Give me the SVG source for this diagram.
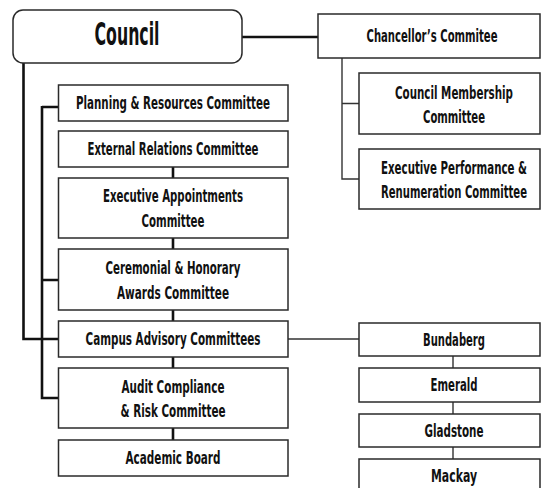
<svg xmlns="http://www.w3.org/2000/svg" width="541" height="488" viewBox="0 0 541 488">
<style>
rect{fill:#fff;stroke:#2a2a2a;stroke-width:1.5}
text{font-family:"Liberation Sans Narrow","DejaVu Sans Condensed","Liberation Sans",sans-serif;font-weight:bold;font-size:17.5px;fill:#111;text-anchor:middle}
.thick{stroke:#111;stroke-width:2.6;fill:none}
.thin{stroke:#333;stroke-width:1.4;fill:none}
</style>
<rect x="0" y="0" width="541" height="488" style="fill:#fff;stroke:none"/>
<g id="connectors">
<path class="thick" d="M23.5 63V339H58.5M42 107H58.5M42 106V398H58.5M42 280H58.5"/>
<path class="thick" d="M242 37H318"/>
<path class="thick" d="M173 167V178M173 238V249M173 310V321M173 357V368M173 428V440"/>
<path class="thin" d="M342 58V179H359M342 103.5H359"/>
<path class="thin" d="M288 339H359M453 356V368M453 402V414M453 447V459"/>
</g>
<g id="council"><rect x="13" y="10" width="229" height="53" rx="10"/><text x="127" y="45" style="font-size:32px" textLength="65" lengthAdjust="spacingAndGlyphs">Council</text></g>
<g id="chancellor"><rect x="318" y="14" width="222" height="44"/><text x="432" y="42" textLength="131" lengthAdjust="spacingAndGlyphs">Chancellor’s Commitee</text></g>
<g id="council-membership"><rect x="359" y="73" width="181" height="61"/><text x="454" y="98.5" textLength="118" lengthAdjust="spacingAndGlyphs">Council Membership</text><text x="454" y="123" textLength="62" lengthAdjust="spacingAndGlyphs">Committee</text></g>
<g id="exec-performance"><rect x="359" y="149" width="181" height="60"/><text x="454" y="173.5" textLength="146" lengthAdjust="spacingAndGlyphs">Executive Performance &amp;</text><text x="454" y="198" textLength="146" lengthAdjust="spacingAndGlyphs">Renumeration Committee</text></g>
<g id="planning"><rect x="58.5" y="85" width="229.5" height="36"/><text x="173" y="109" textLength="194" lengthAdjust="spacingAndGlyphs">Planning &amp; Resources Committee</text></g>
<g id="external"><rect x="58.5" y="131" width="229.5" height="36"/><text x="173" y="155" textLength="171" lengthAdjust="spacingAndGlyphs">External Relations Committee</text></g>
<g id="exec-appointments"><rect x="58.5" y="178" width="229.5" height="60"/><text x="173" y="202" textLength="140" lengthAdjust="spacingAndGlyphs">Executive Appointments</text><text x="173" y="227" textLength="63" lengthAdjust="spacingAndGlyphs">Committee</text></g>
<g id="ceremonial"><rect x="58.5" y="249" width="229.5" height="61"/><text x="173" y="274" textLength="135" lengthAdjust="spacingAndGlyphs">Ceremonial &amp; Honorary</text><text x="173" y="298.5" textLength="112" lengthAdjust="spacingAndGlyphs">Awards Committee</text></g>
<g id="campus"><rect x="58.5" y="321" width="229.5" height="36"/><text x="173" y="345" textLength="175" lengthAdjust="spacingAndGlyphs">Campus Advisory Committees</text></g>
<g id="audit"><rect x="58.5" y="368" width="229.5" height="60"/><text x="173" y="392.5" textLength="103" lengthAdjust="spacingAndGlyphs">Audit Compliance</text><text x="173" y="416.5" textLength="105" lengthAdjust="spacingAndGlyphs">&amp; Risk Committee</text></g>
<g id="academic"><rect x="58.5" y="440" width="229.5" height="36"/><text x="173" y="464" textLength="95" lengthAdjust="spacingAndGlyphs">Academic Board</text></g>
<g id="bundaberg"><rect x="359" y="323" width="181" height="33"/><text x="454" y="345.5" textLength="62" lengthAdjust="spacingAndGlyphs">Bundaberg</text></g>
<g id="emerald"><rect x="359" y="368" width="181" height="34"/><text x="454" y="391" textLength="47" lengthAdjust="spacingAndGlyphs">Emerald</text></g>
<g id="gladstone"><rect x="359" y="414" width="181" height="33"/><text x="454" y="436.5" textLength="59" lengthAdjust="spacingAndGlyphs">Gladstone</text></g>
<g id="mackay"><rect x="359" y="459" width="181" height="40"/><text x="454" y="482" textLength="46" lengthAdjust="spacingAndGlyphs">Mackay</text></g>
</svg>
